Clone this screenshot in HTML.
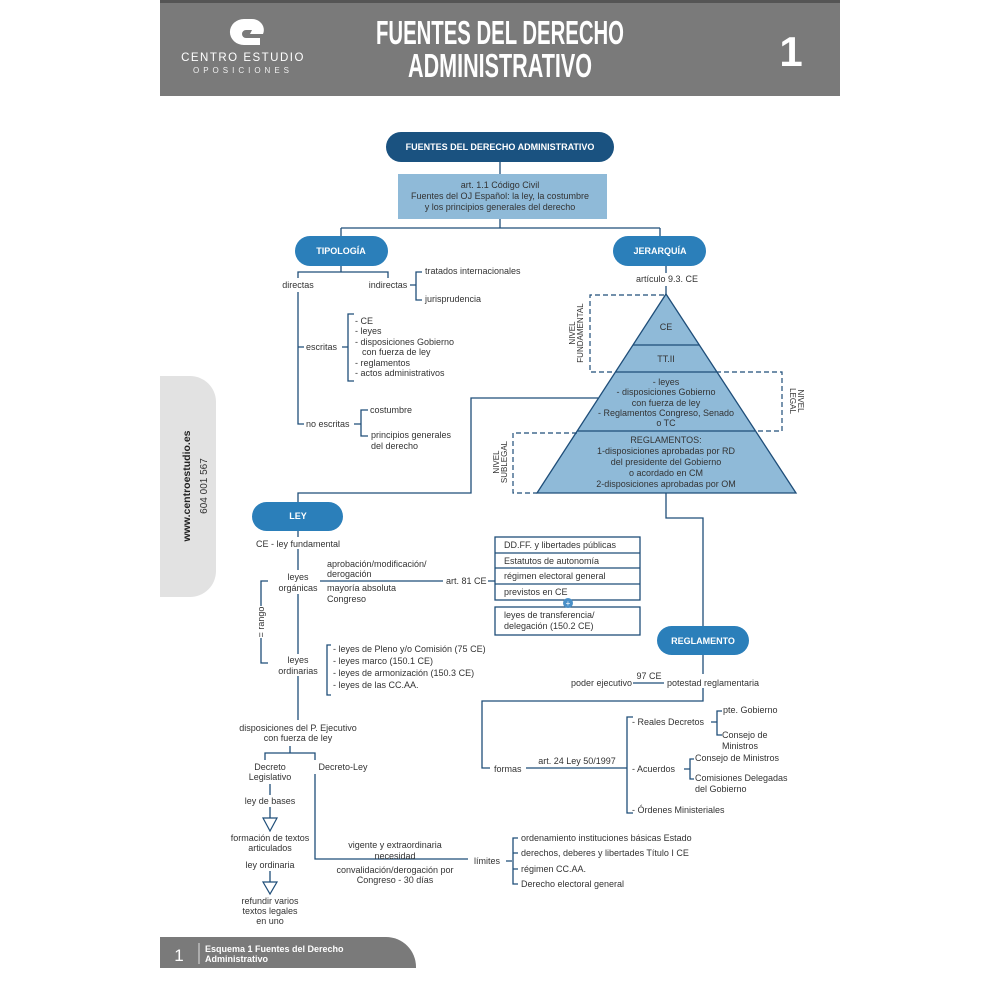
<!DOCTYPE html>
<html><head><meta charset="utf-8"><style>
html,body{margin:0;padding:0;background:#fff;width:1000px;height:1000px;overflow:hidden}
svg{display:block}
text{font-family:"Liberation Sans",sans-serif;fill:#333;font-size:9px}
.c{text-anchor:middle}
.w{fill:#fff;font-weight:bold}
.ln{stroke:#1f4e79;stroke-width:1.3;fill:none}
.ds{stroke:#1f4e79;stroke-width:1.2;fill:none;stroke-dasharray:5,3}
</style></head><body>
<svg width="1000" height="1000" viewBox="0 0 1000 1000">
<!-- header -->
<rect x="160" y="0" width="680" height="96" fill="#7a7a7a"/>
<rect x="160" y="0" width="680" height="3" fill="#555"/>
<path d="M244 19 a13 12 0 0 0 0 26 h16 v-7 h-14 a4 4 0 0 1 0 -8 h6 l-2 4 h13 a12 11 0 0 0 -12 -15 z" fill="#fff"/>
<text x="243" y="61" class="c" style="fill:#fff;font-size:11.5px;letter-spacing:1.5px">CENTRO ESTUDIO</text>
<text x="243" y="73" class="c" style="fill:#eee;font-size:8px;letter-spacing:4px">OPOSICIONES</text>
<text x="500" y="44" class="c" style="fill:#fff;font-family:'Liberation Sans Narrow','Liberation Sans',sans-serif;font-weight:bold;font-size:33px;font-stretch:condensed" textLength="248" lengthAdjust="spacingAndGlyphs">FUENTES DEL DERECHO</text>
<text x="500" y="77" class="c" style="fill:#fff;font-family:'Liberation Sans Narrow','Liberation Sans',sans-serif;font-weight:bold;font-size:33px;font-stretch:condensed" textLength="184" lengthAdjust="spacingAndGlyphs">ADMINISTRATIVO</text>
<text x="791" y="66" class="c" style="fill:#fff;font-weight:bold;font-size:42px;font-family:'Liberation Sans Narrow',sans-serif">1</text>

<!-- side tab -->
<path d="M160 376 h30 a26 26 0 0 1 26 26 v169 a26 26 0 0 1 -26 26 h-30 z" fill="#e2e2e2"/>
<text transform="translate(190,486) rotate(-90)" class="c" style="font-weight:bold;font-size:10.5px;fill:#222">www.centroestudio.es</text>
<text transform="translate(207,486) rotate(-90)" class="c" style="font-size:10px;fill:#333">604 001 567</text>

<!-- footer -->
<path d="M160 937 h226 a30 30 0 0 1 30 30 v1 h-256 z" fill="#7a7a7a"/>
<text x="179" y="961" class="c" style="fill:#fff;font-size:17px">1</text>
<line x1="199" y1="943" x2="199" y2="964" stroke="#ddd" stroke-width="1"/>
<text x="205" y="952" class="w" style="font-size:9px">Esquema 1 Fuentes del Derecho</text>
<text x="205" y="962" class="w" style="font-size:9px">Administrativo</text>

<!-- top -->
<rect x="386" y="132" width="228" height="30" rx="15" fill="#1a5280"/>
<text x="500" y="150" class="c w" style="font-size:9px">FUENTES DEL DERECHO ADMINISTRATIVO</text>
<path class="ln" d="M500 162V174M500 219V228M341 228H660M341 228V236M660 228V236"/>
<rect x="398" y="174" width="209" height="45" fill="#8fbad8"/>
<text x="500" y="188" class="c">art. 1.1 Código Civil</text>
<text x="500" y="199" class="c">Fuentes del OJ Español: la ley, la costumbre</text>
<text x="500" y="210" class="c">y los principios generales del derecho</text>

<rect x="295" y="236" width="93" height="30" rx="15" fill="#2b7fba"/>
<text x="341" y="254" class="c w">TIPOLOGÍA</text>
<rect x="613" y="236" width="93" height="30" rx="15" fill="#2b7fba"/>
<text x="660" y="254" class="c w">JERARQUÍA</text>

<!-- tipologia -->
<path class="ln" d="M341 266V272M298 278V272H388V278"/>
<text x="298" y="288" class="c">directas</text>
<text x="388" y="288" class="c">indirectas</text>
<path class="ln" d="M410 285H416M422 272H416V300H422"/>
<text x="425" y="274">tratados internacionales</text>
<text x="425" y="302">jurisprudencia</text>
<path class="ln" d="M298 292V424H304M298 347H304"/>
<text x="306" y="350">escritas</text>
<path class="ln" d="M342 347H348M354 314H348V381H354"/>
<text x="355" y="324">- CE</text>
<text x="355" y="334">- leyes</text>
<text x="355" y="345">- disposiciones Gobierno</text>
<text x="362" y="355">con fuerza de ley</text>
<text x="355" y="366">- reglamentos</text>
<text x="355" y="376">- actos administrativos</text>
<text x="306" y="427">no escritas</text>
<path class="ln" d="M354 424H361M368 410H361V436H368"/>
<text x="370" y="413">costumbre</text>
<text x="371" y="438">principios generales</text>
<text x="371" y="449">del derecho</text>

<!-- jerarquia pyramid -->
<path class="ln" d="M666 266V273"/>
<text x="667" y="282" class="c">artículo 9.3. CE</text>
<path class="ln" d="M666 286V294"/>
<polygon points="666,294 796,493 537,493" fill="#8fbad8" stroke="#1f4e79" stroke-width="1.3"/>
<path class="ln" d="M633 345H699M616 372H716M577 431H755"/>
<text x="666" y="330" class="c">CE</text>
<text x="666" y="362" class="c">TT.II</text>
<text x="666" y="385" class="c">- leyes</text>
<text x="666" y="395" class="c">- disposiciones Gobierno</text>
<text x="666" y="406" class="c">con fuerza de ley</text>
<text x="666" y="416" class="c">- Reglamentos Congreso, Senado</text>
<text x="666" y="426" class="c">o TC</text>
<text x="666" y="443" class="c">REGLAMENTOS:</text>
<text x="666" y="454" class="c">1-disposiciones aprobadas por RD</text>
<text x="666" y="465" class="c">del presidente del Gobierno</text>
<text x="666" y="476" class="c">o acordado en CM</text>
<text x="666" y="487" class="c">2-disposiciones aprobadas por OM</text>
<path class="ds" d="M664 295H590V372H616"/>
<path class="ds" d="M716 372H782V431H755"/>
<path class="ds" d="M577 433H513V493H537"/>
<text transform="translate(575,333) rotate(-90)" class="c" style="font-size:8px">NIVEL</text>
<text transform="translate(583,333) rotate(-90)" class="c" style="font-size:8px">FUNDAMENTAL</text>
<text transform="translate(798,401) rotate(90)" class="c" style="font-size:8px">NIVEL</text>
<text transform="translate(790,401) rotate(90)" class="c" style="font-size:8px">LEGAL</text>
<text transform="translate(499,462) rotate(-90)" class="c" style="font-size:8px">NIVEL</text>
<text transform="translate(507,462) rotate(-90)" class="c" style="font-size:8px">SUBLEGAL</text>

<!-- connectors -->
<path class="ln" d="M598 398H471V493H298V502"/>
<path class="ln" d="M666 493V518H703V626"/>

<!-- LEY -->
<rect x="252" y="502" width="91" height="29" rx="14.5" fill="#2b7fba"/>
<text x="298" y="519" class="c w">LEY</text>
<path class="ln" d="M298 531V537M298 549V570M298 594V654M298 676V720"/>
<text x="298" y="547" class="c">CE - ley fundamental</text>
<text x="298" y="580" class="c">leyes</text>
<text x="298" y="591" class="c">orgánicas</text>
<path class="ln" d="M320 581H443M488 581H495"/>
<text x="327" y="567">aprobación/modificación/</text>
<text x="327" y="577">derogación</text>
<text x="327" y="591">mayoría absoluta</text>
<text x="327" y="602">Congreso</text>
<text x="446" y="584">art. 81 CE</text>
<rect x="495" y="537" width="145" height="63" fill="#fff" stroke="#1f4e79" stroke-width="1.3"/>
<path class="ln" d="M495 553H640M495 568H640M495 584H640"/>
<text x="504" y="548">DD.FF.  y libertades públicas</text>
<text x="504" y="564">Estatutos de autonomía</text>
<text x="504" y="579">régimen electoral general</text>
<text x="504" y="595">previstos en CE</text>
<rect x="495" y="607" width="145" height="28" fill="#fff" stroke="#1f4e79" stroke-width="1.3"/>
<text x="504" y="618">leyes de transferencia/</text>
<text x="504" y="629">delegación (150.2 CE)</text>
<circle cx="568" cy="603" r="5" fill="#4a90c8"/>
<text x="568" y="606" class="c" style="fill:#fff;font-size:8px">+</text>
<path class="ln" d="M268 581H261V606M261 638V663H268"/>
<text transform="translate(264,622) rotate(-90)" class="c">= rango</text>
<text x="298" y="663" class="c">leyes</text>
<text x="298" y="674" class="c">ordinarias</text>
<path class="ln" d="M331 645H327V695H331"/>
<text x="333" y="652">- leyes de Pleno y/o Comisión (75 CE)</text>
<text x="333" y="664">- leyes marco (150.1 CE)</text>
<text x="333" y="676">- leyes de armonización (150.3 CE)</text>
<text x="333" y="688">- leyes de las CC.AA.</text>
<text x="298" y="731" class="c">disposiciones del P. Ejecutivo</text>
<text x="298" y="741" class="c">con fuerza de ley</text>
<path class="ln" d="M290 746V753M265 760V753H315V760"/>
<text x="270" y="770" class="c">Decreto</text>
<text x="270" y="780" class="c">Legislativo</text>
<text x="343" y="770" class="c">Decreto-Ley</text>
<path class="ln" d="M270 784V795M270 807V818M270 871V882"/>
<text x="270" y="804" class="c">ley de bases</text>
<path d="M263 818H277L270 831Z" fill="#fff" stroke="#1f4e79" stroke-width="1.2"/>
<text x="270" y="841" class="c">formación de textos</text>
<text x="270" y="851" class="c">articulados</text>
<text x="270" y="868" class="c">ley ordinaria</text>
<path d="M263 882H277L270 894Z" fill="#fff" stroke="#1f4e79" stroke-width="1.2"/>
<text x="270" y="904" class="c">refundir varios</text>
<text x="270" y="914" class="c">textos legales</text>
<text x="270" y="924" class="c">en uno</text>
<path class="ln" d="M315 774V859H468M506 861H512M518 838H513V884H518M513 853H518M513 869H518"/>
<text x="395" y="848" class="c">vigente y extraordinaria</text>
<text x="395" y="859" class="c">necesidad</text>
<text x="395" y="873" class="c">convalidación/derogación por</text>
<text x="395" y="883" class="c">Congreso - 30 días</text>
<text x="474" y="864">límites</text>
<text x="521" y="841">ordenamiento instituciones básicas Estado</text>
<text x="521" y="856">derechos, deberes y libertades Título I CE</text>
<text x="521" y="872">régimen CC.AA.</text>
<text x="521" y="887">Derecho electoral general</text>

<!-- REGLAMENTO -->
<rect x="657" y="626" width="92" height="29" rx="14.5" fill="#2b7fba"/>
<text x="703" y="644" class="c w">REGLAMENTO</text>
<path class="ln" d="M703 655V674M703 688V701H482V768H490M633 683H664"/>
<text x="632" y="686" style="text-anchor:end">poder ejecutivo</text>
<text x="649" y="679" class="c">97 CE</text>
<text x="667" y="686">potestad reglamentaria</text>
<text x="494" y="772">formas</text>
<path class="ln" d="M526 768H627M633 717H627V813H633"/>
<text x="577" y="764" class="c">art. 24 Ley 50/1997</text>
<text x="632" y="725">- Reales Decretos</text>
<path class="ln" d="M711 722H717M722 711H717V735H722"/>
<text x="723" y="713">pte. Gobierno</text>
<text x="722" y="738">Consejo de</text>
<text x="722" y="749">Ministros</text>
<text x="632" y="772">- Acuerdos</text>
<path class="ln" d="M684 769H690M694 759H690V779H694"/>
<text x="695" y="761">Consejo de Ministros</text>
<text x="695" y="781">Comisiones Delegadas</text>
<text x="695" y="792">del Gobierno</text>
<text x="632" y="813">- Órdenes Ministeriales</text>
</svg>
</body></html>
